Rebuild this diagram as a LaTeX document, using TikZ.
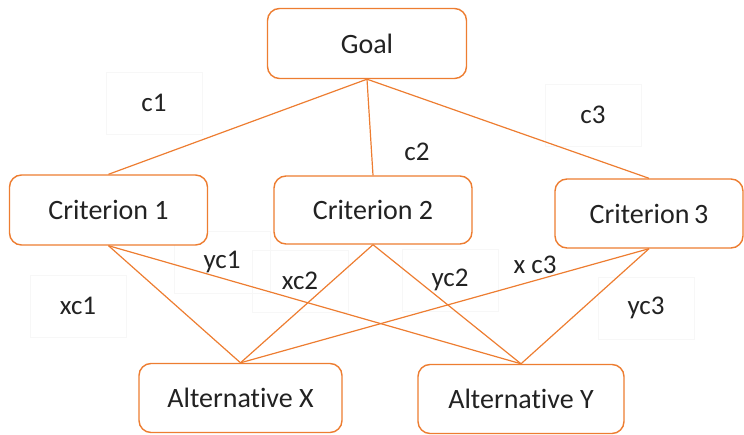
\documentclass[tikz,border=0pt]{standalone}
\usepackage{fontspec}
\setmainfont{Carlito}[Ligatures={NoCommon}]
\begin{document}
\definecolor{accent}{HTML}{ED7D31}
\definecolor{ink}{HTML}{222222}
\begin{tikzpicture}[x=1pt,y=-1pt,
  box/.style={draw=accent, line width=1.4pt, rounded corners=12pt, fill=white,
    text=ink, font=\fontsize{28}{33}\selectfont, inner sep=0pt},
  weight/.style={draw=black!3, line width=0.5pt, text=ink,
    font=\fontsize{27}{31}\selectfont, minimum width=96pt, minimum height=62pt},
  link/.style={draw=accent, line width=1.2pt}]
  \useasboundingbox (0,0) rectangle (744,435);

  % weight labels (faint text frames)
  \node[weight] (lc1) at (154,103) {c1};
  \node[weight] (lc3) at (593,115) {c3};
  \node[weight] (lxc1) at (78,306) {xc1};
  \node[weight] (lyc3) at (646,308) {yc3};
  \node[weight] (lyc1) at (222,262) {yc1};
  \node[weight] (lxc2) at (300,281) {xc2};
  \node[weight] (lyc2) at (450,280) {yc2};
  \node[text=ink, font=\fontsize{27}{31}\selectfont] (lxc3) at (535,265) {x c3};
  \node[text=ink, font=\fontsize{27}{31}\selectfont] (lc2) at (417,152) {c2};

  % hierarchy boxes
  \node[box, minimum width=199pt, minimum height=70pt] (goal) at (367,43.5) {Goal};
  \node[box, minimum width=198pt, minimum height=70pt] (cr1) at (108.5,210) {Criterion 1};
  \node[box, minimum width=198pt, minimum height=68pt] (cr2) at (373,210) {Criterion 2};
  \node[box, minimum width=188pt, minimum height=69pt] (cr3) at (649,213.5) {Criterion\,3};
  \node[box, minimum width=203pt, minimum height=69pt] (altx) at (240.5,398) {Alternative X};
  \node[box, minimum width=206pt, minimum height=69pt] (alty) at (521,399) {Alternative Y};

  % goal to criteria
  \draw[link] (goal.south) -- (cr1.north);
  \draw[link] (goal.south) -- (cr2.north);
  \draw[link] (goal.south) -- (cr3.north);

  % criteria to alternatives
  \foreach \c in {cr1,cr2,cr3} {
    \draw[link] (\c.south) -- (altx.north);
    \draw[link] (\c.south) -- (alty.north);
  }
\end{tikzpicture}
\end{document}
